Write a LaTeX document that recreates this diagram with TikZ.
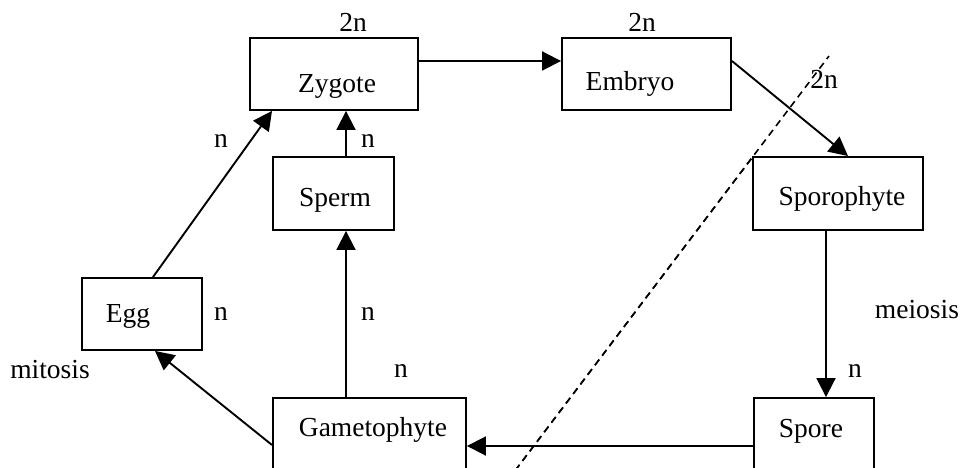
\documentclass[tikz,border=0pt]{standalone}
\usepackage{fontspec}
\setmainfont{Liberation Serif}
\usetikzlibrary{arrows.meta}
\tikzset{
  box/.style={draw, line width=1.9pt, inner sep=0pt, fill=white},
  txt/.style={anchor=base, inner sep=0pt, font=\fontsize{27.5}{33}\selectfont},
  conn/.style={line width=1.9pt, -{Triangle[length=19pt,width=19pt]}},
  cut/.style={line width=1.6pt, dash pattern=on 7pt off 5pt}
}
\begin{document}
\begin{tikzpicture}[x=1pt,y=-1pt]
\useasboundingbox (0,0) rectangle (961,468);
\clip (0,0) rectangle (961,468);
\fill[white] (0,0) rectangle (961,468);
% dashed cut line
\coordinate (cutA) at (508,480);
\coordinate (cutB) at (829,56);
\draw[cut] (cutA) -- (cutB);
% boxes
\node[box, minimum width=168pt, minimum height=72pt] (zyg) at (334,74) {};
\node[box, minimum width=169pt, minimum height=72pt] (emb) at (646.5,74) {};
\node[box, minimum width=170pt, minimum height=73pt] (spo) at (838,193.5) {};
\node[box, minimum width=121pt, minimum height=73pt] (spm) at (333.5,193.5) {};
\node[box, minimum width=120pt, minimum height=72pt] (egg) at (142,314) {};
\node[box, minimum width=193pt, minimum height=72pt] (gam) at (369.5,434) {};
\node[box, minimum width=120pt, minimum height=72pt] (spr) at (814,434) {};
% dashed line over the gap between boxes
\begin{scope}
\clip (467,0) rectangle (752,468);
\draw[cut] (cutA) -- (cutB);
\end{scope}
% box texts
\node[txt] (zygT) at (337,93) {Zygote};
\node[txt] (embT) at (630,91) {Embryo};
\node[txt] (spoT) at (842,205) {Sporophyte};
\node[txt] (spmT) at (335,206) {Sperm};
\node[txt] (eggT) at (128,322) {Egg};
\node[txt] (gamT) at (373,436) {Gametophyte};
\node[txt] (sprT) at (811,437) {Spore};
% connectors
\draw[conn] ([yshift=13pt]zyg.east) -- ([yshift=13pt]emb.west);
\draw[conn] ([yshift=13pt]emb.east) -- ([xshift=10pt]spo.north);
\draw[conn] ([xshift=-12pt]spo.south) -- ([xshift=12pt]spr.north);
\draw[conn] ([yshift=-12pt]spr.west) -- ([yshift=-12pt]gam.east);
\draw[conn] ([xshift=-23.5pt]gam.north) -- ([xshift=12.5pt]spm.south);
\draw[conn] ([xshift=12.5pt]spm.north) -- ([xshift=12pt]zyg.south);
\draw[conn] ([yshift=-11pt]gam.west) -- ([xshift=13pt]egg.south);
\draw[conn] ([xshift=11pt]egg.north) -- ([xshift=-62pt]zyg.south);
% ploidy and process labels
\node[txt] (l1) at (353,32) {2n};
\node[txt] (l2) at (642,32) {2n};
\node[txt] (l3) at (824,89) {2n};
\node[txt] (l4) at (221,147) {n};
\node[txt] (l5) at (368,147) {n};
\node[txt] (l6) at (221,320) {n};
\node[txt] (l7) at (368,320) {n};
\node[txt] (l8) at (401,377) {n};
\node[txt] (l9) at (855,377) {n};
\node[txt] (l10) at (917,318) {meiosis};
\node[txt] (l11) at (50,378) {mitosis};
\end{tikzpicture}
\end{document}
